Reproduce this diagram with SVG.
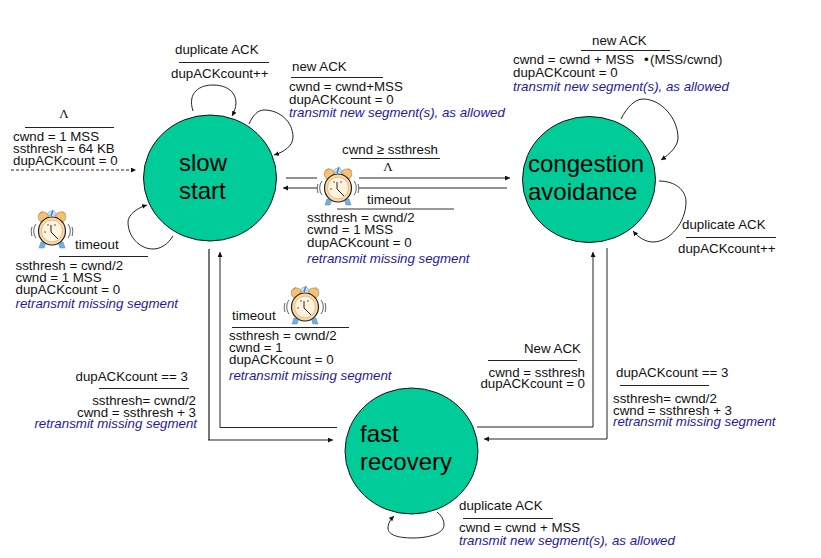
<svg xmlns="http://www.w3.org/2000/svg" xmlns:xlink="http://www.w3.org/1999/xlink" width="821" height="558" viewBox="0 0 821 558">
<style>
text{font-family:"Liberation Sans",Arial,sans-serif;font-size:13.3px;fill:#111}
.act{font-style:italic;fill:#27189a}
.st{font-size:24px;fill:#000}
.lam{font-family:"Liberation Serif",serif;font-size:13px;text-anchor:middle}
.end{text-anchor:end}
.state{fill:#00cc99;stroke:#111;stroke-width:1}
.bar{stroke:#222;stroke-width:1;fill:none}
.gbar{stroke:#777;stroke-width:1.5;fill:none}
.c{fill:none;stroke:#222;stroke-width:1;marker-end:url(#ah)}
.cg{fill:none;stroke:#777;stroke-width:2}
</style>
<defs>
<marker id="ah" markerUnits="userSpaceOnUse" markerWidth="7" markerHeight="6" refX="5" refY="2.500" orient="auto"><path d="M0 0L5 2.500L0 5Z" fill="#111"/></marker>
<g id="clock">
<rect x="-21" y="-20" width="42" height="41" fill="#fff"/>
<path d="M-11-8C-15-11-15-17-9-18C-5-18-3-15-3-14Z" fill="#f8c070" stroke="#a87830" stroke-width=".6"/>
<path d="M11-8C15-11 15-17 9-18C5-18 3-15 3-14Z" fill="#f8c070" stroke="#a87830" stroke-width=".6"/>
<path d="M-5-15C-4-20 3-20 5-15Z" fill="#cfe4f6" stroke="#7098c0" stroke-width=".6"/>
<path d="M-1-14L1-20" stroke="#4080d0" stroke-width="1.4"/>
<path d="M-11 12L-6 12L-8 18L-13 18Z" fill="#70b0e8" stroke="#5080b0" stroke-width=".5"/>
<path d="M11 12L6 12L8 18L13 18Z" fill="#70b0e8" stroke="#5080b0" stroke-width=".5"/>
<ellipse cx="0" cy="1" rx="13.500" ry="14" fill="#fcd9a8" stroke="#222" stroke-width="1.2"/>
<ellipse cx="0" cy="1" rx="10.500" ry="11" fill="#fff3df" stroke="#d8a860" stroke-width=".7"/>
<path d="M-1-5L-1 2L6 9" fill="none" stroke="#222" stroke-width="1"/>
<path d="M-4-6L-4-4M3-6L3-4M-7 1L-7 3" stroke="#333" stroke-width=".8"/>
<path d="M-16-6C-19-2-19 4-16 8M-20-3C-21 0-21 3-20 6M16-6C19-2 19 4 16 8M20-3C21 0 21 3 20 6" fill="none" stroke="#333" stroke-width=".8"/>
<path d="M-9-19L-13-16M10-19L14-16" fill="none" stroke="#777" stroke-width=".6"/>
</g>
</defs>

<g id="connectors">
<path class="c" stroke-dasharray="3 2" d="M11 170H136"/>
<path class="c" d="M193 111C187 92 200 85 213 85C232 85 242 98 232 116"/>
<path class="c" d="M249 124C253 115 258 110 264 110C280 110 293 122 293 137C293 146 284 152 274 155"/>
<path class="c" d="M173 236C168 244 161 249 153 249C139 249 128 236 128 222C128 215 137 208 147 205"/>
<path class="c" d="M286 178H510"/>
<path class="c" d="M507 188H283"/>
<path class="c" d="M337 427.500H220V252"/>
<path class="cg" d="M209 249V440"/>
<path class="c" d="M208 440H333"/>
<path class="c" d="M477 427H593V252"/>
<path class="c" d="M607 248V439H484"/>
<path class="c" d="M621 119C627 107 635 99 643 99C661 99 678 118 678 138C678 146 670 154 661 160"/>
<path class="c" d="M659 181C675 181 686 190 686 202C686 222 670 242 653 242C646 242 639 238 633 231"/>
<path class="c" d="M437 512C442 516 444 520 444 525C444 533 430 538 413 538C398 538 388 535 388 528C388 524 390 520 394 516"/>
</g>

<g id="slow-start">
<ellipse class="state" cx="210" cy="178" rx="66.500" ry="63"/>
<text class="st" x="179" y="171">slow</text>
<text class="st" x="179" y="199">start</text>
</g>
<g id="congestion-avoidance">
<ellipse class="state" cx="589" cy="179.500" rx="66.500" ry="63"/>
<text class="st" x="528" y="172">congestion</text>
<text class="st" x="528" y="200">avoidance</text>
</g>
<g id="fast-recovery">
<ellipse class="state" cx="411.500" cy="451" rx="66.500" ry="63"/>
<text class="st" x="360" y="442">fast</text>
<text class="st" x="360" y="470">recovery</text>
</g>

<g id="label-init">
<text class="lam" x="64" y="118">Λ</text>
<path class="bar" d="M25 127.500H114"/>
<text x="13" y="141">cwnd = 1 MSS</text>
<text x="13" y="153">ssthresh = 64 KB</text>
<text x="13" y="165">dupACKcount = 0</text>
</g>
<g id="label-ss-dup">
<text x="175" y="54">duplicate ACK</text>
<path class="bar" d="M179 62.500H269"/>
<text x="171" y="78">dupACKcount++</text>
</g>
<g id="label-ss-new">
<text x="292" y="71">new ACK</text>
<path class="bar" d="M291 77.500H383"/>
<text x="289" y="91">cwnd = cwnd+MSS</text>
<text x="289" y="104">dupACKcount = 0</text>
<text class="act" x="289" y="117">transmit new segment(s), as allowed</text>
</g>
<g id="label-ss-timeout">
<use xlink:href="#clock" href="#clock" x="52" y="230"/>
<text x="75" y="249">timeout</text>
<path class="bar" d="M59 256.500H148"/>
<text x="15.500" y="270">ssthresh = cwnd/2</text>
<text x="15.500" y="282">cwnd = 1 MSS</text>
<text x="15.500" y="294">dupACKcount = 0</text>
<text class="act" x="15.500" y="308">retransmit missing segment</text>
</g>
<g id="label-ss-ca">
<text x="342" y="154">cwnd ≥ ssthresh</text>
<path class="bar" d="M351 158.500H440"/>
<text class="lam" x="388" y="171">Λ</text>
</g>
<g id="label-ca-timeout">
<use xlink:href="#clock" href="#clock" x="338" y="187"/>
<text x="367" y="204">timeout</text>
<path class="gbar" d="M337 209H454"/>
<text x="307" y="222">ssthresh = cwnd/2</text>
<text x="307" y="234">cwnd = 1 MSS</text>
<text x="307" y="247">dupACKcount = 0</text>
<text class="act" x="307" y="263">retransmit missing segment</text>
</g>
<g id="label-ca-new">
<text x="592" y="45">new ACK</text>
<path class="bar" d="M581 50.500H670"/>
<text x="513" y="64">cwnd = cwnd + MSS</text>
<text x="644" y="64">•</text>
<text x="650" y="64">(MSS/cwnd)</text>
<text x="513" y="77">dupACKcount = 0</text>
<text class="act" x="513" y="91">transmit new segment(s), as allowed</text>
</g>
<g id="label-ca-dup">
<text x="682" y="229">duplicate ACK</text>
<path class="bar" d="M686 237.500H776"/>
<text x="678" y="253">dupACKcount++</text>
</g>
<g id="label-fr-timeout">
<use xlink:href="#clock" href="#clock" x="305" y="306"/>
<text x="232" y="320">timeout</text>
<path class="bar" d="M232 327.500H349"/>
<text x="229" y="340">ssthresh = cwnd/2</text>
<text x="229" y="352">cwnd = 1</text>
<text x="229" y="364">dupACKcount = 0</text>
<text class="act" x="229" y="380">retransmit missing segment</text>
</g>
<g id="label-ss-fr">
<text x="75.500" y="381">dupACKcount == 3</text>
<path class="bar" d="M99 388.500H189"/>
<text class="end" x="196" y="405">ssthresh= cwnd/2</text>
<text class="end" x="196" y="416.500">cwnd = ssthresh + 3</text>
<text class="act end" x="197" y="428">retransmit missing segment</text>
</g>
<g id="label-fr-ca">
<text x="524" y="353">New ACK</text>
<path class="bar" d="M488 360.500H577"/>
<text class="end" x="585" y="377">cwnd = ssthresh</text>
<text class="end" x="585" y="388">dupACKcount = 0</text>
</g>
<g id="label-ca-fr">
<text x="616" y="377">dupACKcount == 3</text>
<path class="bar" d="M620 385.500H709"/>
<text x="613" y="403">ssthresh= cwnd/2</text>
<text x="613" y="415">cwnd = ssthresh + 3</text>
<text class="act" x="613" y="426">retransmit missing segment</text>
</g>
<g id="label-fr-dup">
<text x="459" y="510">duplicate ACK</text>
<path class="bar" d="M463 518.500H553"/>
<text x="459" y="532">cwnd = cwnd + MSS</text>
<text class="act" x="459" y="545">transmit new segment(s), as allowed</text>
</g>
</svg>
